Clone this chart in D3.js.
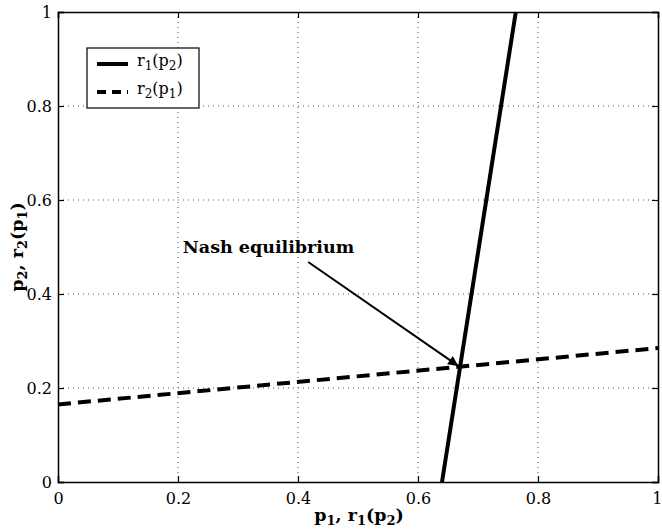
<!DOCTYPE html>
<html><head><meta charset="utf-8">
<script src="https://cdn.jsdelivr.net/npm/d3@7"></script>
<style>body{margin:0;background:#fff}svg text{font-family:"DejaVu Serif",serif !important;}</style>
</head><body>
<svg id="c" width="662" height="529"></svg>
<script>
const xTicks = [0, 0.2, 0.4, 0.6, 0.8, 1];
const yTicks = [0, 0.2, 0.4, 0.6, 0.8, 1];
const xTickLabels = ["0", "0.2", "0.4", "0.6", "0.8", "1"];
const yTickLabels = ["0", "0.2", "0.4", "0.6", "0.8", "1"];
// r1(p2): p1 as function of p2 (points: [p1, p2])
const r1Points = [[0.64, 0], [0.763, 1]];
// r2(p1): p2 as function of p1
const r2Points = [[0, 0.165], [1, 0.285]];
const annotationText = "Nash equilibrium";
const annotationPos = [0.208, 0.487];
const arrowFrom = [0.417, 0.468];
const arrowTo = [0.667, 0.247];
const legendLabels = [["r","1","(p","2",")"], ["r","2","(p","1",")"]];

const svg = d3.select("#c");
const L = 58, R = 658, T = 12, B = 482;
const x = d3.scaleLinear().domain([0, 1]).range([L, R]);
const y = d3.scaleLinear().domain([0, 1]).range([B, T]);

// grid
const g = svg.append("g");
g.selectAll(".gx").data(xTicks.slice(1, -1)).enter().append("line")
  .attr("x1", d => x(d)).attr("x2", d => x(d)).attr("y1", T).attr("y2", B)
  .attr("stroke", "#555").attr("stroke-width", 1).attr("stroke-dasharray", "1,4");
g.selectAll(".gy").data(yTicks.slice(1, -1)).enter().append("line")
  .attr("y1", d => y(d)).attr("y2", d => y(d)).attr("x1", L).attr("x2", R)
  .attr("stroke", "#555").attr("stroke-width", 1).attr("stroke-dasharray", "1,4");

// axes
const xAxis = d3.axisBottom(x).tickValues(xTicks).tickFormat((d, i) => xTickLabels[i]).tickSize(-6).tickPadding(10);
const yAxis = d3.axisLeft(y).tickValues(yTicks).tickFormat((d, i) => yTickLabels[i]).tickSize(-6).tickPadding(6);
const xa = svg.append("g").attr("transform", `translate(0,${B})`).call(xAxis);
const ya = svg.append("g").attr("transform", `translate(${L},0)`).call(yAxis);
const xt = svg.append("g").attr("transform", `translate(0,${T})`).call(d3.axisTop(x).tickValues(xTicks).tickFormat("").tickSize(-6));
const yr = svg.append("g").attr("transform", `translate(${R},0)`).call(d3.axisRight(y).tickValues(yTicks).tickFormat("").tickSize(-6));
[xa, ya, xt, yr].forEach(a => {
  a.attr("font-family", null);
  a.select(".domain").attr("stroke", "#000").attr("stroke-width", 1.5);
  a.selectAll(".tick line").attr("stroke", "#000").attr("stroke-width", 1.2);
  a.selectAll("text").attr("font-size", 16).attr("fill", "#000");
});
xa.selectAll("text").attr("dy", "0.72em");
xa.selectAll(".tick").filter(d => d === 1).select("text").attr("text-anchor", "end").attr("dx", "4");

// lines
const line = d3.line().x(d => x(d[0])).y(d => y(d[1]));
svg.append("path").datum(r1Points).attr("d", line).attr("fill", "none").attr("stroke", "#000").attr("stroke-width", 4);
svg.append("path").datum(r2Points).attr("d", line).attr("fill", "none").attr("stroke", "#000").attr("stroke-width", 4).attr("stroke-dasharray", "13,7");

// annotation
svg.append("text").attr("x", x(annotationPos[0])).attr("y", y(annotationPos[1]))
  .attr("font-size", 17.5).attr("font-weight", "bold").text(annotationText);
svg.append("defs").append("marker").attr("id", "ah").attr("viewBox", "0 0 10 10")
  .attr("refX", 10).attr("refY", 5).attr("markerWidth", 14).attr("markerHeight", 10)
  .attr("markerUnits", "userSpaceOnUse").attr("orient", "auto")
  .append("path").attr("d", "M0,0 L10,5 L0,10 Z");
svg.append("line").attr("x1", x(arrowFrom[0])).attr("y1", y(arrowFrom[1]))
  .attr("x2", x(arrowTo[0])).attr("y2", y(arrowTo[1]))
  .attr("stroke", "#000").attr("stroke-width", 2).attr("marker-end", "url(#ah)");

// legend
const lg = svg.append("g").attr("transform", "translate(87,48)");
lg.append("rect").attr("width", 112).attr("height", 60).attr("fill", "#fff").attr("stroke", "#000").attr("stroke-width", 1.2);
legendLabels.forEach((lab, i) => {
  const yy = 16 + i * 28;
  lg.append("line").attr("x1", 10).attr("x2", 41).attr("y1", yy).attr("y2", yy)
    .attr("stroke", "#000").attr("stroke-width", 4).attr("stroke-dasharray", i ? "9,6" : null);
  const t = lg.append("text").attr("x", 50).attr("y", yy + 2).attr("font-size", 16);
  t.append("tspan").text(lab[0]);
  t.append("tspan").attr("baseline-shift", "-30%").attr("font-size", 12).text(lab[1]);
  t.append("tspan").text(lab[2]);
  t.append("tspan").attr("baseline-shift", "-30%").attr("font-size", 12).text(lab[3]);
  t.append("tspan").text(lab[4]);
});

// axis labels
function sublabel(sel, parts) {
  parts.forEach((p, i) => {
    const ts = sel.append("tspan").text(p);
    if (i % 2 === 1) ts.attr("baseline-shift", "-30%").attr("font-size", 13);
  });
}
const xl = svg.append("text").attr("x", 359).attr("y", 521).attr("text-anchor", "middle")
  .attr("font-size", 17.5).attr("font-weight", "bold");
sublabel(xl, ["p", "1", ", r", "1", "(p", "2", ")"]);

const yl = svg.append("text").attr("transform", "translate(23,247) rotate(-90)").attr("text-anchor", "middle")
  .attr("font-size", 17.5).attr("font-weight", "bold");
sublabel(yl, ["p", "2", ", r", "2", "(p", "1", ")"]);
</script>
</body></html>
